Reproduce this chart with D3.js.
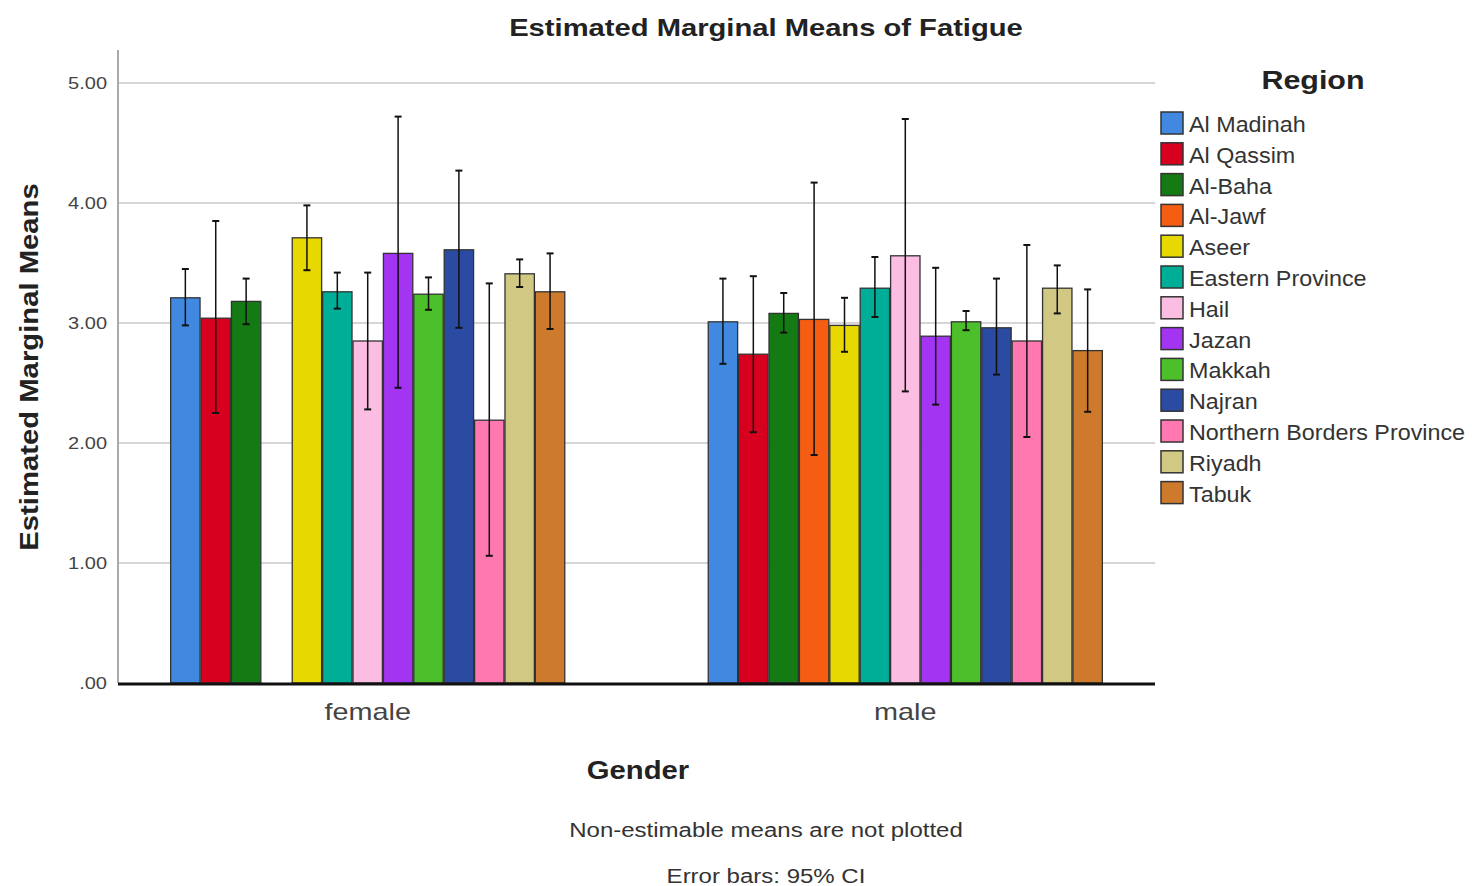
<!DOCTYPE html>
<html><head><meta charset="utf-8">
<script src="https://cdn.jsdelivr.net/npm/d3@7"></script>
<style>body{margin:0;background:#fff;} svg{display:block;font-family:"Liberation Sans",Arial,sans-serif;}</style>
</head><body><svg id="c" width="1472" height="886"></svg>
<script>
const genders = ["female", "male"];
const regions = ["Al Madinah","Al Qassim","Al-Baha","Al-Jawf","Aseer","Eastern Province","Hail","Jazan","Makkah","Najran","Northern Borders Province","Riyadh","Tabuk"];
const colors = ["#4189E0","#D7001F","#137A14","#F55E12","#E6D800","#00AE97","#FBBEE2","#A334F2","#4DBF2A","#2B4BA2","#FF78B0","#D1C884","#CE7A2C"];
const femaleMeans = [3.21,3.04,3.18,null,3.71,3.26,2.85,3.58,3.24,3.61,2.19,3.41,3.26];
const femaleLower = [2.98,2.25,2.99,null,3.44,3.12,2.28,2.46,3.11,2.96,1.06,3.30,2.95];
const femaleUpper = [3.45,3.85,3.37,null,3.98,3.42,3.42,4.72,3.38,4.27,3.33,3.53,3.58];
const maleMeans = [3.01,2.74,3.08,3.03,2.98,3.29,3.56,2.89,3.01,2.96,2.85,3.29,2.77];
const maleLower = [2.66,2.09,2.92,1.90,2.76,3.05,2.43,2.32,2.94,2.57,2.05,3.08,2.26];
const maleUpper = [3.37,3.39,3.25,4.17,3.21,3.55,4.70,3.46,3.10,3.37,3.65,3.48,3.28];
const yTicks = [0,1,2,3,4,5];
const yTickLabels = [".00","1.00","2.00","3.00","4.00","5.00"];

const rows = [];
genders.forEach((g,gi)=>{
  const m = gi===0?femaleMeans:maleMeans, lo = gi===0?femaleLower:maleLower, up = gi===0?femaleUpper:maleUpper;
  regions.forEach((r,ri)=>{ if(m[ri]!=null) rows.push({g,r,ri,mean:m[ri],lo:lo[ri],up:up[ri]}); });
});

function stretch(sel, f){
  sel.each(function(){
    const w = this.getComputedTextLength();
    this.setAttribute("textLength", w*f);
    this.setAttribute("lengthAdjust","spacingAndGlyphs");
  });
  return sel;
}

const svg = d3.select("#c");
const L=118, R=1155, T=50, B=683;
const x0 = d3.scaleBand().domain(genders).range([L,R]).paddingInner(0.265).paddingOuter(0.097);
const x1 = d3.scaleBand().domain(regions).range([0,x0.bandwidth()]).padding(0);
const y = d3.scaleLinear().domain([0,5]).range([B,B-600]);
const color = d3.scaleOrdinal().domain(regions).range(colors);

// gridlines
svg.append("g").selectAll("line").data(yTicks.filter(d=>d>0)).join("line")
  .attr("x1",L).attr("x2",R).attr("y1",d=>y(d)).attr("y2",d=>y(d))
  .attr("stroke","#d6d6d6").attr("stroke-width",2);

// y axis
const yAxis = d3.axisLeft(y).tickValues(yTicks).tickFormat((d,i)=>yTickLabels[i]).tickSize(0).tickPadding(11);
const ya = svg.append("g").attr("transform",`translate(${L},0)`).call(yAxis);
ya.select(".domain").remove();
ya.selectAll("text").attr("font-size",16).attr("fill","#444").attr("font-family",null);
stretch(ya.selectAll("text"),1.25);
svg.append("line").attr("x1",L).attr("x2",L).attr("y1",T).attr("y2",B).attr("stroke","#aaa").attr("stroke-width",2);

// bars
const gBars = svg.append("g");
gBars.selectAll("rect").data(rows).join("rect")
  .attr("x",d=>x0(d.g)+x1(d.r)+0.5).attr("width",x1.bandwidth()-1)
  .attr("y",d=>y(d.mean)).attr("height",d=>B-y(d.mean))
  .attr("fill",d=>color(d.r)).attr("stroke","#333").attr("stroke-width",1.3);

// error bars
const eb = svg.append("g").attr("stroke","#111").attr("stroke-width",1.5);
rows.forEach(d=>{
  const cx = x0(d.g)+x1(d.r)+x1.bandwidth()/2;
  eb.append("line").attr("x1",cx).attr("x2",cx).attr("y1",y(d.lo)).attr("y2",y(d.up));
  eb.append("line").attr("x1",cx-3.5).attr("x2",cx+3.5).attr("y1",y(d.lo)).attr("y2",y(d.lo)).attr("stroke-width",2);
  eb.append("line").attr("x1",cx-3.5).attr("x2",cx+3.5).attr("y1",y(d.up)).attr("y2",y(d.up)).attr("stroke-width",2);
});

// x axis baseline
svg.append("line").attr("x1",L).attr("x2",R).attr("y1",B+1).attr("y2",B+1).attr("stroke","#111").attr("stroke-width",3);
const xAxis = d3.axisBottom(x0).tickSize(0).tickPadding(20);
const xa = svg.append("g").attr("transform",`translate(0,${B})`).call(xAxis);
xa.select(".domain").remove();
xa.selectAll("text").attr("font-size",24).attr("fill","#444").attr("font-family",null);
stretch(xa.selectAll("text"),1.2);

// titles
stretch(svg.append("text").attr("x",766).attr("y",36).attr("text-anchor","middle").attr("font-size",24).attr("font-weight","bold").attr("fill","#222").text("Estimated Marginal Means of Fatigue"),1.215);
stretch(svg.append("text").attr("transform",`translate(38,367) rotate(-90)`).attr("text-anchor","middle").attr("font-size",25).attr("font-weight","bold").attr("fill","#222").text("Estimated Marginal Means"),1.17);
stretch(svg.append("text").attr("x",638).attr("y",779).attr("text-anchor","middle").attr("font-size",25).attr("font-weight","bold").attr("fill","#222").text("Gender"),1.17);
stretch(svg.append("text").attr("x",766).attr("y",837).attr("text-anchor","middle").attr("font-size",20).attr("fill","#333").text("Non-estimable means are not plotted"),1.2);
stretch(svg.append("text").attr("x",766).attr("y",883).attr("text-anchor","middle").attr("font-size",20).attr("fill","#333").text("Error bars: 95% CI"),1.2);

// legend
stretch(svg.append("text").attr("x",1313).attr("y",89).attr("text-anchor","middle").attr("font-size",26).attr("font-weight","bold").attr("fill","#222").text("Region"),1.17);
const lg = svg.append("g").selectAll("g").data(regions).join("g").attr("transform",(d,i)=>`translate(1161,${112+i*30.8})`);
lg.append("rect").attr("width",22).attr("height",22).attr("fill",d=>color(d)).attr("stroke","#333").attr("stroke-width",1.5);
stretch(lg.append("text").attr("x",28).attr("y",20).attr("font-size",22).attr("fill","#333").text(d=>d),1.06);
</script></body></html>
